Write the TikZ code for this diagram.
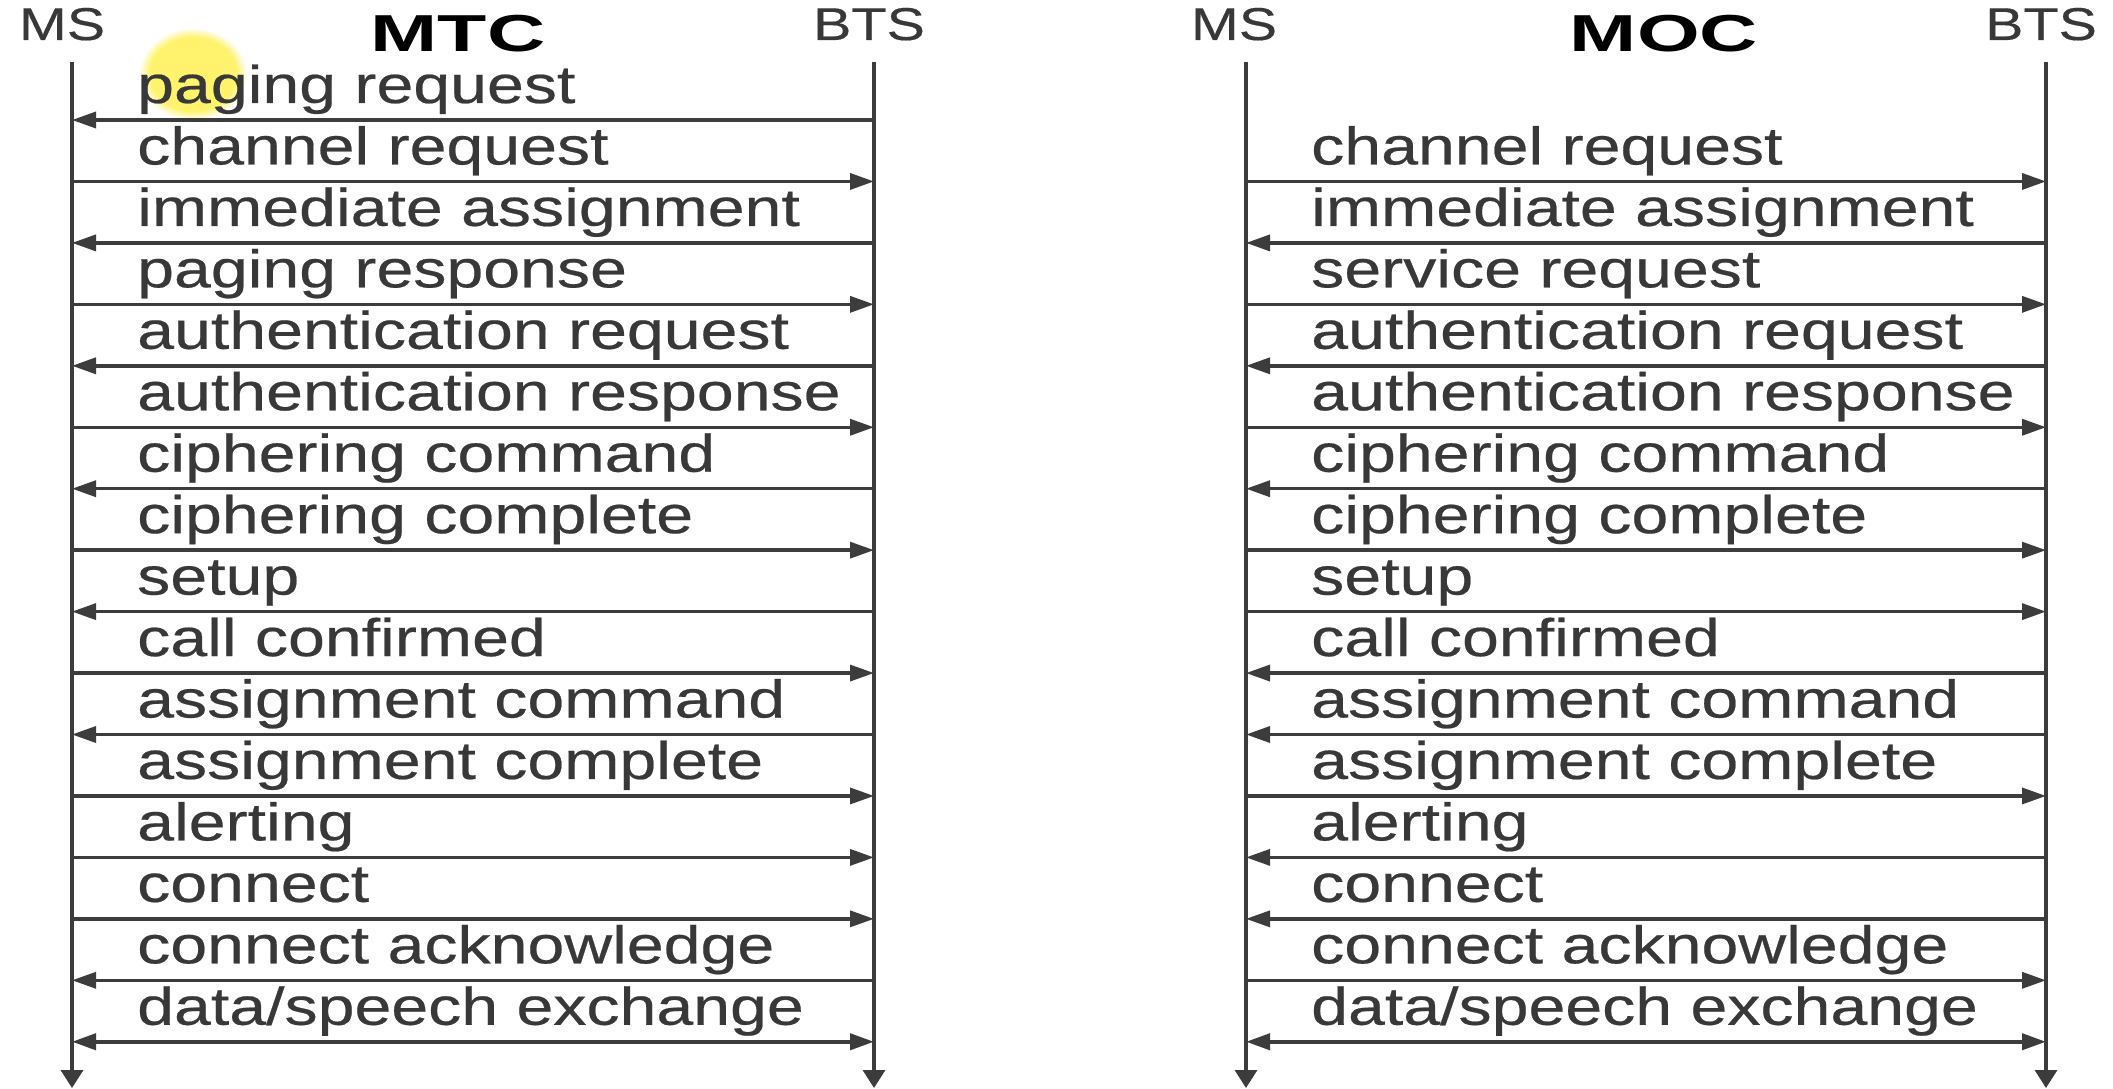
\documentclass[tikz,border=0pt]{standalone}
\usepackage{fontspec}
\setmainfont{Liberation Sans}[FakeStretch=1.25,FakeBold=0.4]
\newfontfamily\titlefont{Liberation Sans}[FakeStretch=1.55]
\usetikzlibrary{arrows.meta,fadings}
\definecolor{linegray}{HTML}{3C3C3C}
\definecolor{txtgray}{HTML}{383838}
\definecolor{hilite}{HTML}{FFF04A}

\begin{document}
\begin{tikzpicture}[x=1pt,y=-1pt,
  lifeline/.style={line width=3.4pt, draw=linegray, -{Triangle[length=18pt,width=22pt]}},
  msg/.style={line width=3.4pt, draw=linegray},
  tor/.style={-{Triangle[length=24pt,width=16pt]}},
  tol/.style={{Triangle[length=24pt,width=16pt]}-},
  tob/.style={line width=4pt,{Triangle[length=24pt,width=16pt]}-{Triangle[length=24pt,width=16pt]}},
  lbl/.style={anchor=base west, inner sep=0pt, text=txtgray, font=\fontsize{53}{53}\selectfont},
  head/.style={anchor=base, inner sep=0pt, text=txtgray, font=\fontsize{46}{46}\selectfont},
  ttl/.style={anchor=base, inner sep=0pt, text=black, font=\titlefont\bfseries\fontsize{52}{52}\selectfont}]

\useasboundingbox (0,0) rectangle (2113,1089);
\fill[white] (0,0) rectangle (2113,1089);

% pointer highlight
\fill[hilite, opacity=0.8, path fading=circle with fuzzy edge 20 percent] (193,74) ellipse [x radius=54, y radius=46];

% ---------------- MTC (left) ----------------
\node[head] (LmsHead) at (62,40) {MS};
\node[head] (LbtsHead) at (869,40) {BTS};
\node[ttl] (Ltitle) at (458,52) {MTC};

\coordinate (LmsTop) at (72,62);
\coordinate (LmsBot) at (72,1088);
\coordinate (LbtsTop) at (874,62);
\coordinate (LbtsBot) at (874,1088);
\draw[lifeline] (LmsTop) -- (LmsBot);
\draw[lifeline] (LbtsTop) -- (LbtsBot);

\foreach \i/\a/\t in {
  0/tol/{paging request},
  1/tor/{channel request},
  2/tol/{immediate assignment},
  3/tor/{paging response},
  4/tol/{authentication request},
  5/tor/{authentication response},
  6/tol/{ciphering command},
  7/tor/{ciphering complete},
  8/tol/{setup},
  9/tor/{call confirmed},
  10/tol/{assignment command},
  11/tor/{assignment complete},
  12/tor/{alerting},
  13/tor/{connect},
  14/tol/{connect acknowledge},
  15/tob/{data/speech exchange}} {
  \pgfmathsetmacro\yy{120+61.45*\i}
  \coordinate (Lm\i) at (72,\yy);
  \coordinate (Lb\i) at (874,\yy);
  \node[lbl] (Lt\i) at (137,\yy-17) {\t};
  \draw[msg,\a] (Lm\i) -- (Lb\i);
}

% ---------------- MOC (right) ----------------
\node[head] (RmsHead) at (1234,40) {MS};
\node[head] (RbtsHead) at (2041,40) {BTS};
\node[ttl] (Rtitle) at (1664,52) {MOC};

\coordinate (RmsTop) at (1246,62);
\coordinate (RmsBot) at (1246,1088);
\coordinate (RbtsTop) at (2046,62);
\coordinate (RbtsBot) at (2046,1088);
\draw[lifeline] (RmsTop) -- (RmsBot);
\draw[lifeline] (RbtsTop) -- (RbtsBot);

\foreach \i/\a/\t in {
  1/tor/{channel request},
  2/tol/{immediate assignment},
  3/tor/{service request},
  4/tol/{authentication request},
  5/tor/{authentication response},
  6/tol/{ciphering command},
  7/tor/{ciphering complete},
  8/tor/{setup},
  9/tol/{call confirmed},
  10/tol/{assignment command},
  11/tor/{assignment complete},
  12/tol/{alerting},
  13/tol/{connect},
  14/tor/{connect acknowledge},
  15/tob/{data/speech exchange}} {
  \pgfmathsetmacro\yy{120+61.45*\i}
  \coordinate (Rm\i) at (1246,\yy);
  \coordinate (Rb\i) at (2046,\yy);
  \node[lbl] (Rt\i) at (1311,\yy-17) {\t};
  \draw[msg,\a] (Rm\i) -- (Rb\i);
}
\end{tikzpicture}
\end{document}
